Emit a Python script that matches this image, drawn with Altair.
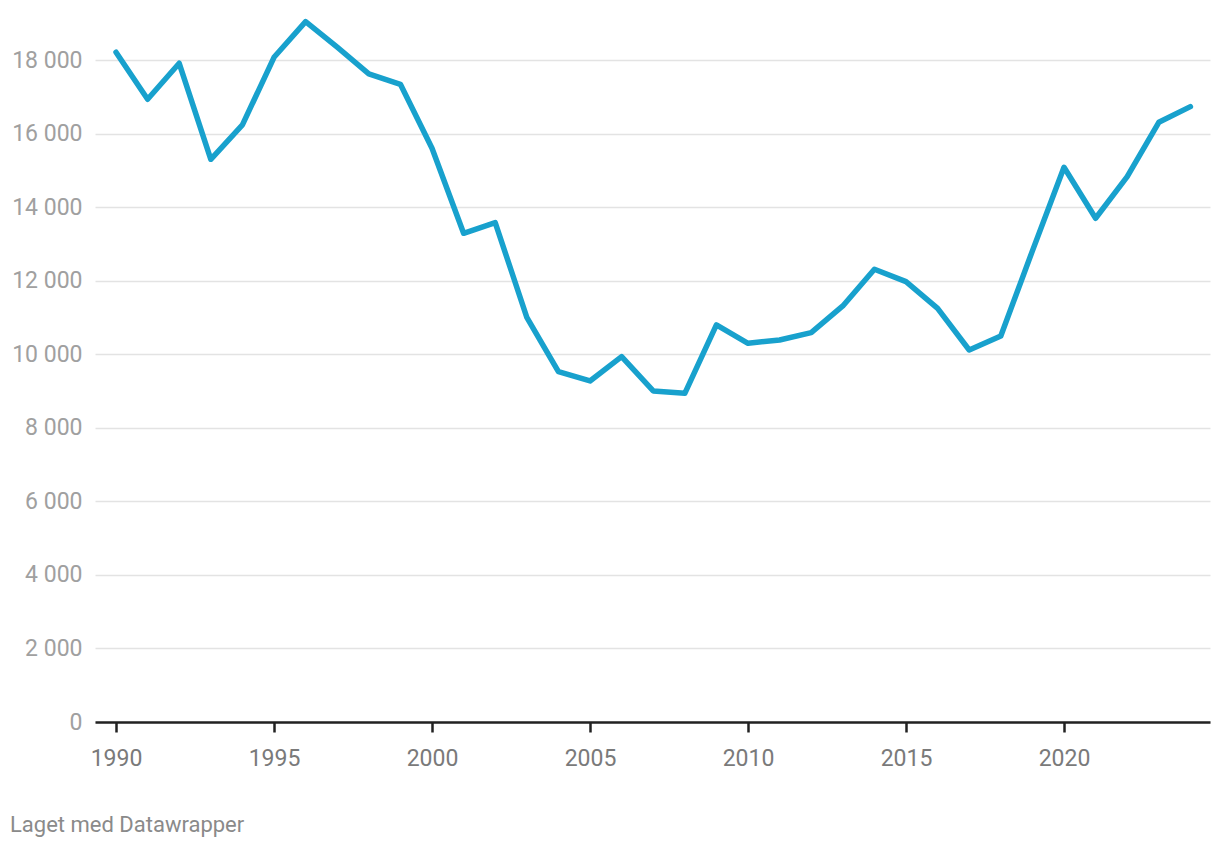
import altair as alt
import pandas as pd

years = list(range(1990, 2025))
values = [18223, 16944, 17923, 15311, 16245, 18086, 19056, 18360, 17633, 17351,
          15611, 13297, 13587, 11012, 9533, 9279, 9941, 9007, 8944, 10803,
          10304, 10395, 10593, 11320, 12318, 11981, 11256, 10122, 10503, 12820,
          15093, 13706, 14838, 16318, 16743]
y_ticks = [0, 2000, 4000, 6000, 8000, 10000, 12000, 14000, 16000, 18000]
x_ticks = [1990, 1995, 2000, 2005, 2010, 2015, 2020]
footer = "Laget med Datawrapper"

df = pd.DataFrame({"year": years, "value": values})
fdf = pd.DataFrame({"t": [footer]})

line = alt.Chart(df).mark_line(
    color="#18a1cd", strokeWidth=5.5, strokeJoin="round", strokeCap="round"
).encode(
    x=alt.X("year:Q",
            scale=alt.Scale(domain=[1989.335, 2024.62], nice=False, zero=False),
            axis=alt.Axis(values=x_ticks, format="d", title=None, grid=False,
                          domainColor="#222222", domainWidth=2.5,
                          tickColor="#222222", tickWidth=2.5, tickSize=10,
                          labelFontSize=23, labelColor="#7a7a7a", labelPadding=15,
                          labelFont="Roboto")),
    y=alt.Y("value:Q",
            scale=alt.Scale(domain=[0, 19400], nice=False),
            axis=alt.Axis(values=y_ticks, title=None, domain=False, ticks=False,
                          grid=True, gridColor="#e3e3e3", gridWidth=1.3,
                          labelExpr="replace(format(datum.value, ','), ',', ' ')",
                          labelFontSize=23, labelColor="#a0a0a0", labelPadding=13,
                          labelFont="Roboto", labelBaseline="middle")),
)

foot = alt.Chart(fdf).mark_text(
    align="left", baseline="middle", fontSize=22, color="#8a8a8a", font="Roboto"
).encode(
    x=alt.value(-85), y=alt.value(816), text="t:N"
)

chart = alt.layer(line, foot).properties(
    width=1115, height=713,
    padding={"left": 87, "top": 1, "right": 2, "bottom": 120},
    autosize=alt.AutoSizeParams(type="none"),
).configure(background="white").configure_view(stroke=None, strokeWidth=0)

chart.save("out.html", embed_options={"renderer": "svg", "actions": False})
